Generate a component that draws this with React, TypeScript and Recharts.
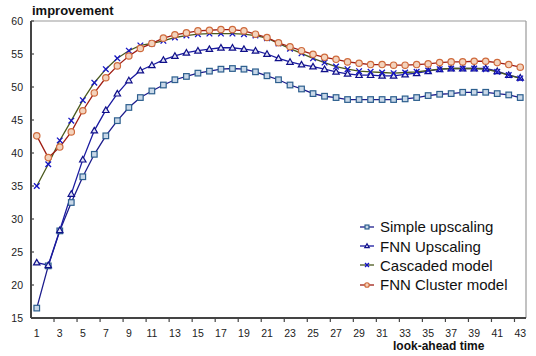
import React from "react";
import { LineChart, Line, XAxis, YAxis, ReferenceLine } from "recharts";

// look-ahead steps (x categories)
const lookAhead = [
  1, 2, 3, 4, 5, 6, 7, 8, 9, 10, 11, 12, 13, 14, 15, 16, 17, 18, 19, 20, 21, 22,
  23, 24, 25, 26, 27, 28, 29, 30, 31, 32, 33, 34, 35, 36, 37, 38, 39, 40, 41, 42, 43,
];
const xTicks = [1, 3, 5, 7, 9, 11, 13, 15, 17, 19, 21, 23, 25, 27, 29, 31, 33, 35, 37, 39, 41, 43];
const yTicks = [15, 20, 25, 30, 35, 40, 45, 50, 55, 60];

const simpleUpscaling = [
  16.5, 22.9, 28.2, 32.5, 36.4, 39.8, 42.6, 44.9, 46.9, 48.4, 49.4, 50.3, 51.1, 51.6, 52.1,
  52.4, 52.7, 52.8, 52.7, 52.3, 51.7, 51.1, 50.3, 49.7, 49.0, 48.6, 48.4, 48.1, 48.1, 48.1,
  48.1, 48.1, 48.2, 48.4, 48.7, 48.9, 49.0, 49.2, 49.2, 49.2, 49.0, 48.8, 48.4,
];
const fnnUpscaling = [
  23.4, 23.0, 28.3, 33.8, 39.0, 43.4, 46.5, 49.0, 51.0, 52.5, 53.3, 54.1, 54.7, 55.2, 55.5,
  55.75, 55.95, 55.95, 55.75, 55.5, 55.0, 54.35, 53.8, 53.4, 53.1, 52.7, 52.3, 52.0, 51.8, 51.8,
  51.7, 51.7, 51.9, 52.1, 52.4, 52.7, 52.8, 52.8, 52.8, 52.8, 52.4, 51.8, 51.4,
];
const cascadedModel = [
  35.0, 38.3, 41.9, 44.9, 48.0, 50.65, 52.7, 54.35, 55.5, 56.3, 56.6, 57.0, 57.5, 57.8, 58.0,
  58.1, 58.1, 58.1, 58.0, 57.8, 57.4, 56.6, 55.8, 55.1, 54.35, 53.7, 53.1, 52.7, 52.4, 52.3,
  52.2, 52.1, 52.2, 52.3, 52.5, 52.7, 52.8, 52.8, 52.8, 52.7, 52.3, 51.8, 51.3,
];
const fnnCluster = [
  42.6, 39.3, 40.9, 43.2, 46.4, 49.1, 51.4, 53.2, 54.7, 55.85, 56.6, 57.4, 57.9, 58.2, 58.5,
  58.6, 58.7, 58.7, 58.5, 58.0, 57.5, 56.7, 56.1, 55.5, 54.95, 54.5, 54.2, 53.8, 53.6, 53.4,
  53.4, 53.3, 53.3, 53.4, 53.5, 53.7, 53.8, 53.8, 53.9, 53.9, 53.7, 53.4, 53.0,
];

const data = lookAhead.map((t, i) => ({
  t,
  simple: simpleUpscaling[i],
  fnnUp: fnnUpscaling[i],
  cascaded: cascadedModel[i],
  cluster: fnnCluster[i],
}));

const FONT = "'Liberation Sans', Arial, sans-serif";
const PLOT_W = 495;
const UNIT = PLOT_W / 43;

type Mk = "square" | "triangle" | "x" | "circle";

function Marker({ kind, cx, cy, s = 1 }: { kind: Mk; cx: number; cy: number; s?: number }) {
  if (kind === "square") {
    const h = 2.8 * s;
    return <rect x={cx - h} y={cy - h} width={h * 2} height={h * 2} fill="#c9d8e8" stroke="#2d5f8e" strokeWidth={1.2} />;
  }
  if (kind === "triangle") {
    const h = 3.2 * s;
    return (
      <polygon
        points={`${cx},${cy - h} ${cx - h},${cy + h * 0.75} ${cx + h},${cy + h * 0.75}`}
        fill="#e4e6f6"
        stroke="#10108a"
        strokeWidth={1.2}
      />
    );
  }
  if (kind === "x") {
    const h = 2.8 * s;
    return (
      <g stroke="#1414c4" strokeWidth={1.3}>
        <line x1={cx - h} y1={cy - h} x2={cx + h} y2={cy + h} />
        <line x1={cx - h} y1={cy + h} x2={cx + h} y2={cy - h} />
      </g>
    );
  }
  return <circle cx={cx} cy={cy} r={3.2 * s} fill="#f3d3bd" stroke="#cf6a3c" strokeWidth={1.2} />;
}

const dotOf = (kind: Mk) => (p: any) => <Marker key={`${kind}-${p.index}`} kind={kind} cx={p.cx} cy={p.cy} />;

const XTick = (p: any) => (
  <g>
    <line x1={p.x + UNIT * 1.5} y1={318} x2={p.x + UNIT * 1.5} y2={322} stroke="#444" strokeWidth={1.2} />
    <text x={p.x} y={336.5} textAnchor="middle" fontSize={10.5} fill="#222" fontFamily={FONT}>
      {p.payload.value}
    </text>
  </g>
);

const YTick = (p: any) => (
  <g>
    <line x1={31} y1={p.y} x2={34} y2={p.y} stroke="#444" strokeWidth={1.2} />
    <text x={p.x} y={p.y} dy="0.36em" textAnchor="end" fontSize={10.5} fill="#222" fontFamily={FONT}>
      {p.payload.value}
    </text>
  </g>
);

const legendItems: { name: string; kind: Mk; line: string }[] = [
  { name: "Simple upscaling", kind: "square", line: "#1c1c8c" },
  { name: "FNN Upscaling", kind: "triangle", line: "#1a1aa0" },
  { name: "Cascaded model", kind: "x", line: "#4b5a1e" },
  { name: "FNN Cluster model", kind: "circle", line: "#a01e14" },
];

export default function App() {
  return (
    <div style={{ position: "absolute", left: 0, top: 0, width: 536, height: 356, background: "#fff" }}>
      <LineChart width={536} height={356} data={data} margin={{ top: 21, right: 10, bottom: 8, left: 0 }}>
        <XAxis
          dataKey="t"
          type="number"
          domain={[0.5, 43.5]}
          ticks={xTicks}
          interval={0}
          height={30}
          tickLine={false}
          tick={XTick}
          axisLine={{ stroke: "#444", strokeWidth: 2 }}
        />
        <YAxis
          domain={[15, 60]}
          ticks={yTicks}
          interval={0}
          width={31}
          tickLine={false}
          tickSize={0}
          tickMargin={8}
          tick={YTick}
          axisLine={{ stroke: "#444", strokeWidth: 2 }}
        />
        <ReferenceLine y={60} stroke="#999" strokeWidth={1.2} />
        <ReferenceLine x={43.5} stroke="#999" strokeWidth={1.2} />
        <Line dataKey="simple" stroke="#1c1c8c" strokeWidth={1.3} dot={dotOf("square")} isAnimationActive={false} />
        <Line dataKey="fnnUp" stroke="#1a1aa0" strokeWidth={1.3} dot={dotOf("triangle")} isAnimationActive={false} />
        <Line dataKey="cascaded" stroke="#4b5a1e" strokeWidth={1.3} dot={dotOf("x")} isAnimationActive={false} />
        <Line dataKey="cluster" stroke="#a01e14" strokeWidth={1.3} dot={dotOf("circle")} isAnimationActive={false} />
      </LineChart>
      <div style={{ position: "absolute", left: 32, top: 3, fontFamily: FONT, fontWeight: "bold", fontSize: 13, color: "#111" }}>
        improvement
      </div>
      <div style={{ position: "absolute", left: 393, top: 339, fontFamily: FONT, fontWeight: "bold", fontSize: 12, color: "#111" }}>
        look-ahead time
      </div>
      <div style={{ position: "absolute", left: 359, top: 217, fontFamily: FONT, fontSize: 15, color: "#111" }}>
        {legendItems.map((it) => (
          <div key={it.name} style={{ display: "flex", alignItems: "center", height: 19.4 }}>
            <svg width={19} height={12} style={{ marginRight: 2 }}>
              <line x1={1} y1={6} x2={15} y2={6} stroke={it.line} strokeWidth={1.3} />
              <Marker kind={it.kind} cx={8} cy={6} s={0.7} />
            </svg>
            <span>{it.name}</span>
          </div>
        ))}
      </div>
    </div>
  );
}
